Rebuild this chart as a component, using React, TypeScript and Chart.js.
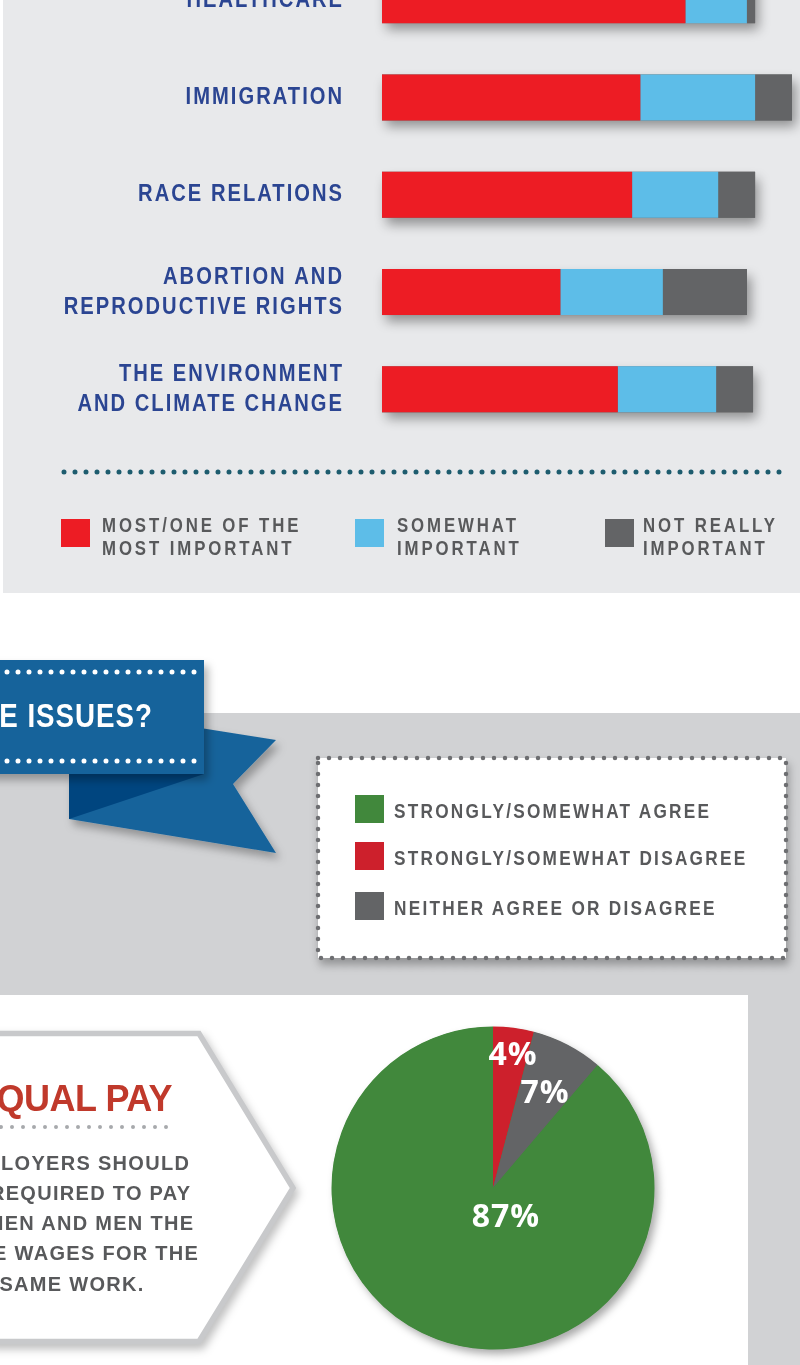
import React, { useEffect, useRef } from "react";
import { Chart, registerables } from "chart.js";

Chart.register(...registerables);

// ---------------- data ----------------
const ISSUES: (string | string[])[] = [
  "HEALTHCARE",
  "IMMIGRATION",
  "RACE RELATIONS",
  ["ABORTION AND", "REPRODUCTIVE RIGHTS"],
  ["THE ENVIRONMENT", "AND CLIMATE CHANGE"],
];
const MOST_IMPORTANT = [74, 63, 61, 43.5, 57.5];
const SOMEWHAT_IMPORTANT = [15, 28, 21, 25, 24];
const NOT_REALLY_IMPORTANT = [2, 9, 9, 20.5, 9];
const IMPORTANCE_SERIES = [
  "MOST/ONE OF THE MOST IMPORTANT",
  "SOMEWHAT IMPORTANT",
  "NOT REALLY IMPORTANT",
];
const IMPORTANCE_LEGEND_LINES = [
  ["MOST/ONE OF THE", "MOST IMPORTANT"],
  ["SOMEWHAT", "IMPORTANT"],
  ["NOT REALLY", "IMPORTANT"],
];
const PERCENT_MAX = 100;

const AGREEMENT_LABELS = [
  "STRONGLY/SOMEWHAT DISAGREE",
  "NEITHER AGREE OR DISAGREE",
  "STRONGLY/SOMEWHAT AGREE",
];
const EQUAL_PAY_VALUES = [4, 7, 87];
const AGREEMENT_LEGEND_ORDER = [2, 0, 1];

const BANNER_TEXT = "E ISSUES?";
const EQUAL_PAY_TITLE = "EQUAL PAY";
const EQUAL_PAY_LINES = [
  "EMPLOYERS SHOULD",
  "BE REQUIRED TO PAY",
  "WOMEN AND MEN THE",
  "SAME WAGES FOR THE",
  "SAME WORK.",
];

// ---------------- styles ----------------
const BAR_COLORS = ["#ed1c24", "#5dbde8", "#636466"];
const PIE_COLORS = ["#cd202c", "#636466", "#41883c"];
const SANS = "'Liberation Sans', Arial, sans-serif";
const CONDENSE = 0.84; // horizontal squeeze -> condensed look
const LABEL_BLUE = "#2b4592";
const TEXT_GREY = "#58595b";
const PIE_LABEL_OFFSETS = [
  [0.124, -0.762],
  [0.322, -0.526],
  [0.08, 0.241],
];
const TICK_FONT_SIZE = 24;
const TICK_LINE_HEIGHT = 30;
const TICK_SPACING = 2.4; // pre-squeeze letter spacing
const TICK_GAP = 40;

const barPlugin = {
  id: "barDecor",
  beforeDatasetsDraw(chart: any) {
    const ctx = chart.ctx;
    const first = chart.getDatasetMeta(0);
    const last = chart.getDatasetMeta(chart.data.datasets.length - 1);
    first.data.forEach((bar: any, i: number) => {
      const p0 = bar.getProps(["y", "height", "base"], true);
      const p1 = last.data[i].getProps(["x"], true);
      ctx.save();
      ctx.shadowColor = "rgba(0,0,0,0.38)";
      ctx.shadowBlur = 11;
      ctx.shadowOffsetX = 4;
      ctx.shadowOffsetY = 7;
      ctx.fillStyle = BAR_COLORS[2];
      ctx.fillRect(p0.base, p0.y - p0.height / 2, p1.x - p0.base, p0.height);
      ctx.restore();
    });
  },
  afterDraw(chart: any) {
    // category labels of the y scale, drawn condensed
    const ctx = chart.ctx;
    const scale = chart.scales.y;
    const labels = chart.data.labels as (string | string[])[];
    labels.forEach((lab, i) => {
      const lines = Array.isArray(lab) ? lab : [lab];
      const yc = scale.getPixelForTick(i);
      const xr = scale.right - TICK_GAP + TICK_SPACING * CONDENSE;
      lines.forEach((line, j) => {
        const y = yc + (j - (lines.length - 1) / 2) * TICK_LINE_HEIGHT;
        ctx.save();
        ctx.translate(xr, y);
        ctx.scale(CONDENSE, 1);
        ctx.font = `bold ${TICK_FONT_SIZE}px ${SANS}`;
        ctx.letterSpacing = `${TICK_SPACING}px`;
        ctx.fillStyle = LABEL_BLUE;
        ctx.textAlign = "right";
        ctx.textBaseline = "middle";
        ctx.fillText(line, 0, 0);
        ctx.restore();
      });
    });
  },
};

const pieDecorPlugin = {
  id: "pieDecor",
  beforeDatasetsDraw(chart: any) {
    const ctx = chart.ctx;
    const arc = chart.getDatasetMeta(0).data[0];
    if (!arc) return;
    const { x, y, outerRadius } = arc.getProps(["x", "y", "outerRadius"], true);
    ctx.save();
    ctx.shadowColor = "rgba(0,0,0,0.35)";
    ctx.shadowBlur = 9;
    ctx.shadowOffsetX = 4;
    ctx.shadowOffsetY = 5;
    ctx.fillStyle = PIE_COLORS[2];
    ctx.beginPath();
    ctx.arc(x, y, outerRadius - 0.5, 0, Math.PI * 2);
    ctx.fill();
    ctx.restore();
  },
  afterDatasetsDraw(chart: any) {
    const ctx = chart.ctx;
    const meta = chart.getDatasetMeta(0);
    const values = chart.data.datasets[0].data;
    meta.data.forEach((arc: any, i: number) => {
      const { x, y, outerRadius } = arc.getProps(["x", "y", "outerRadius"], true);
      const off = PIE_LABEL_OFFSETS[i];
      ctx.save();
      ctx.fillStyle = "#ffffff";
      ctx.font = "bold 32px 'Open Sans', sans-serif";
      ctx.letterSpacing = "1px";
      ctx.textAlign = "center";
      ctx.textBaseline = "alphabetic";
      ctx.fillText(`${values[i]}%`, x + off[0] * outerRadius, y + off[1] * outerRadius);
      ctx.restore();
    });
  },
};

function BarChart() {
  const ref = useRef<HTMLCanvasElement | null>(null);
  useEffect(() => {
    if (!ref.current) return;
    const chart = new Chart(ref.current, {
      type: "bar",
      data: {
        labels: ISSUES as any,
        datasets: [MOST_IMPORTANT, SOMEWHAT_IMPORTANT, NOT_REALLY_IMPORTANT].map((d, i) => ({
          label: IMPORTANCE_SERIES[i],
          data: d,
          backgroundColor: BAR_COLORS[i],
          borderWidth: 0,
          barPercentage: 1,
          categoryPercentage: 0.473,
        })),
      },
      options: {
        indexAxis: "y",
        responsive: false,
        animation: false,
        devicePixelRatio: 1,
        layout: { padding: { top: 11.5, bottom: 12, left: 0, right: 8 } },
        plugins: { legend: { display: false }, tooltip: { enabled: false } },
        scales: {
          x: { stacked: true, min: 0, max: PERCENT_MAX, display: false },
          y: {
            stacked: true,
            grid: { display: false, drawTicks: false },
            border: { display: false },
            ticks: { display: false },
            afterFit(scale: any) {
              scale.width = 382;
            },
          },
        },
      } as any,
      plugins: [barPlugin],
    });
    return () => chart.destroy();
  }, []);
  return (
    <canvas
      ref={ref}
      width={800}
      height={510}
      style={{ position: "absolute", left: 0, top: -60, width: 800, height: 510 }}
    />
  );
}

function PieChart() {
  const ref = useRef<HTMLCanvasElement | null>(null);
  useEffect(() => {
    if (!ref.current) return;
    const chart = new Chart(ref.current, {
      type: "pie",
      data: {
        labels: AGREEMENT_LABELS,
        datasets: [
          {
            data: EQUAL_PAY_VALUES,
            backgroundColor: PIE_COLORS,
            borderWidth: 0,
          },
        ],
      },
      options: {
        responsive: false,
        animation: false,
        devicePixelRatio: 1,
        layout: { padding: 18.5 },
        plugins: { legend: { display: false }, tooltip: { enabled: false } },
      } as any,
      plugins: [pieDecorPlugin],
    });
    return () => chart.destroy();
  }, []);
  return (
    <canvas
      ref={ref}
      width={360}
      height={360}
      style={{ position: "absolute", left: 313, top: 1008, width: 360, height: 360 }}
    />
  );
}

const abs = (o: React.CSSProperties): React.CSSProperties => ({ position: "absolute", ...o });

function Condensed(props: {
  text: string;
  left: number;
  top: number;
  size: number;
  spacing: number; // visual (post-squeeze) letter spacing
  color: string;
  lineHeight: number;
  align?: "left" | "right";
}) {
  const { text, left, top, size, spacing, color, lineHeight, align = "left" } = props;
  return (
    <div
      style={abs({
        left: align === "left" ? left : left - 600,
        top,
        width: 600,
        textAlign: align,
        transform: `scaleX(${CONDENSE})`,
        transformOrigin: align === "left" ? "left top" : "right top",
        fontFamily: SANS,
        fontWeight: "bold",
        fontSize: size,
        lineHeight: `${lineHeight}px`,
        letterSpacing: `${spacing / CONDENSE}px`,
        color,
        whiteSpace: "nowrap",
      })}
    >
      {text}
    </div>
  );
}

export default function App() {
  const topLegendBoxX = [61, 355, 605];
  const topLegendTextX = [102, 397, 643];
  const pieLegendY = [795, 842, 892];
  return (
    <div
      style={abs({
        left: 0,
        top: 0,
        width: 800,
        height: 1365,
        overflow: "hidden",
        background: "#ffffff",
        fontFamily: SANS,
      })}
    >
      {/* ---------- top panel ---------- */}
      <div style={abs({ left: 3, top: 0, width: 797, height: 593, background: "#e8e9eb" })} />
      <BarChart />
      <svg style={abs({ left: 0, top: 460, overflow: "visible" })} width={800} height={24}>
        <line x1={64} y1={12} x2={790} y2={12} stroke="#1d5c6e" strokeWidth={5} strokeDasharray="0 11" strokeLinecap="round" />
      </svg>
      {IMPORTANCE_LEGEND_LINES.map((lines, i) => (
        <React.Fragment key={i}>
          <div style={abs({ left: topLegendBoxX[i], top: 519, width: 29, height: 28, background: BAR_COLORS[i] })} />
          {lines.map((l, j) => (
            <Condensed
              key={j}
              text={l}
              left={topLegendTextX[i]}
              top={514 + j * 23}
              size={20}
              spacing={2.9}
              color={TEXT_GREY}
              lineHeight={23}
            />
          ))}
        </React.Fragment>
      ))}

      {/* ---------- agreement section ---------- */}
      <div style={abs({ left: 0, top: 713, width: 800, height: 652, background: "#d1d2d4" })} />
      <svg style={abs({ left: 0, top: 640, overflow: "visible" })} width={300} height={230}>
        <defs>
          <filter id="ribbonShadow" x="-30%" y="-30%" width="170%" height="180%">
            <feDropShadow dx="4" dy="6" stdDeviation="4" floodColor="#000" floodOpacity="0.3" />
          </filter>
        </defs>
        <polygon points="69,134 150,80 276,100 233,144 276,213 69,179" fill="#17639b" filter="url(#ribbonShadow)" />
        <polygon points="69,134 204,134 69,179" fill="#00457f" />
        <rect x={-20} y={20} width={224} height={114} fill="#17639b" filter="url(#ribbonShadow)" />
        <line x1={7} y1={32} x2={197} y2={32} stroke="#ffffff" strokeWidth={5} strokeDasharray="0 11" strokeLinecap="round" />
        <line x1={7} y1={121} x2={197} y2={121} stroke="#ffffff" strokeWidth={5} strokeDasharray="0 11" strokeLinecap="round" />
      </svg>
      <Condensed text={BANNER_TEXT} left={153} top={699} size={33} spacing={1} color="#ffffff" lineHeight={33} align="right" />

      <svg
        style={abs({ left: 0, top: 0, overflow: "visible", filter: "drop-shadow(2px 6px 4px rgba(0,0,0,0.3))" })}
        width={800}
        height={1000}
      >
        <rect x={318} y={758} width={468} height={200} fill="#ffffff" stroke="#6d6e71" strokeWidth={4.5} strokeDasharray="0 11" strokeLinecap="round" />
      </svg>
      {AGREEMENT_LEGEND_ORDER.map((idx, k) => (
        <React.Fragment key={idx}>
          <div style={abs({ left: 355, top: pieLegendY[k], width: 29, height: 28, background: PIE_COLORS[idx] })} />
          <Condensed
            text={AGREEMENT_LABELS[idx]}
            left={394}
            top={pieLegendY[k] + 2}
            size={20.5}
            spacing={2.26}
            color={TEXT_GREY}
            lineHeight={28}
          />
        </React.Fragment>
      ))}

      {/* ---------- equal pay panel ---------- */}
      <div style={abs({ left: 0, top: 995, width: 748, height: 370, background: "#ffffff" })} />
      <svg
        style={abs({ left: 0, top: 995, overflow: "visible", filter: "drop-shadow(3px 5px 4px rgba(0,0,0,0.25))" })}
        width={748}
        height={370}
      >
        <polygon points="-10,38.5 199,38.5 293,193 199,346.5 -10,346.5" fill="#ffffff" stroke="#c8c9cb" strokeWidth={5.5} />
      </svg>
      <div
        style={abs({
          left: -228,
          top: 1081,
          width: 400,
          textAlign: "right",
          fontFamily: SANS,
          fontWeight: "bold",
          fontSize: 36,
          lineHeight: "36px",
          letterSpacing: "-0.5px",
          color: "#c0392b",
          whiteSpace: "nowrap",
        })}
      >
        {EQUAL_PAY_TITLE}
      </div>
      <svg style={abs({ left: 0, top: 1117, overflow: "visible" })} width={200} height={20}>
        <line x1={1} y1={10} x2={177} y2={10} stroke="#a7a9ac" strokeWidth={4} strokeDasharray="0 11" strokeLinecap="round" />
      </svg>
      <div
        style={abs({
          left: -128,
          top: 1147.5,
          width: 400,
          textAlign: "center",
          fontFamily: SANS,
          fontWeight: "bold",
          fontSize: 20,
          lineHeight: "30.25px",
          letterSpacing: "1.3px",
          color: TEXT_GREY,
          whiteSpace: "nowrap",
        })}
      >
        {EQUAL_PAY_LINES.map((l, i) => (
          <div key={i}>{l}</div>
        ))}
      </div>
      <PieChart />
    </div>
  );
}
